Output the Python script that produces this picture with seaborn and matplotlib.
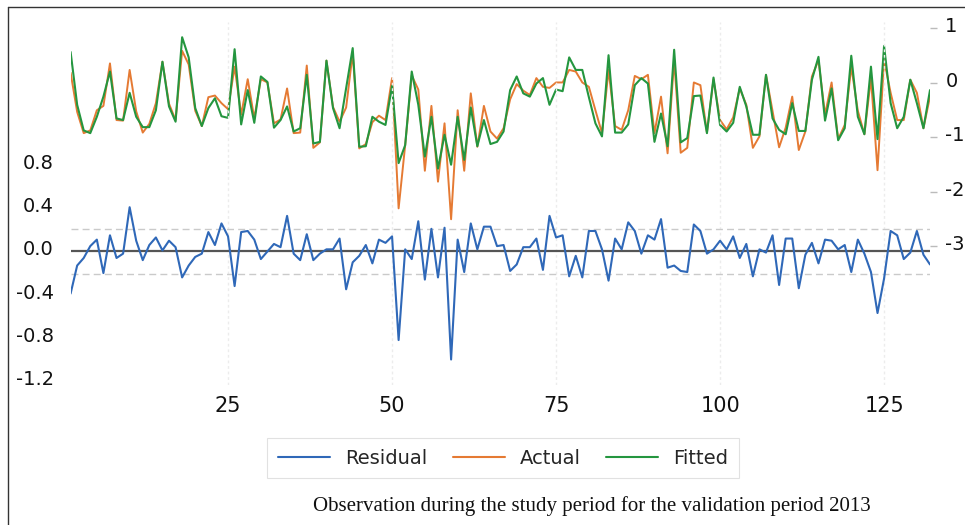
import numpy as np
import pandas as pd
import matplotlib
matplotlib.use("Agg")
import matplotlib.pyplot as plt
from matplotlib.lines import Line2D
import matplotlib.transforms as mtransforms
import seaborn as sns

# ---------------- data ----------------
obs = list(range(1, 133))

residual = [-0.39, -0.13, -0.06, 0.05, 0.11, -0.20, 0.15, -0.06, -0.02, 0.41,
            0.10, -0.08, 0.06, 0.13, 0.01, 0.10, 0.04, -0.24, -0.13, -0.05,
            -0.02, 0.18, 0.06, 0.26, 0.14, -0.32, 0.18, 0.19, 0.11, -0.07,
            0.00, 0.07, 0.04, 0.33, -0.02, -0.08, 0.16, -0.08, -0.02, 0.02,
            0.02, 0.12, -0.35, -0.10, -0.04, 0.06, -0.11, 0.11, 0.08, 0.14,
            -0.82, 0.02, -0.07, 0.28, -0.26, 0.21, -0.24, 0.22, -1.00, 0.11,
            -0.19, 0.26, 0.02, 0.23, 0.23, 0.05, 0.06, -0.18, -0.12, 0.04,
            0.04, 0.12, -0.17, 0.33, 0.13, 0.15, -0.23, -0.04, -0.24, 0.19,
            0.19, 0.02, -0.27, 0.12, 0.02, 0.27, 0.19, -0.02, 0.15, 0.11,
            0.30, -0.15, -0.13, -0.18, -0.19, 0.25, 0.19, -0.02, 0.02, 0.10,
            0.02, 0.14, -0.06, 0.07, -0.23, 0.02, -0.01, 0.15, -0.31, 0.12,
            0.12, -0.34, -0.03, 0.08, -0.11, 0.11, 0.10, 0.02, 0.06, -0.19,
            0.11, -0.02, -0.19, -0.57, -0.25, 0.19, 0.15, -0.07, -0.01, 0.19,
            -0.03, -0.12]

actual = [0.19, -0.53, -0.92, -0.87, -0.50, -0.42, 0.36, -0.68, -0.69, 0.24,
          -0.52, -0.91, -0.75, -0.37, 0.39, -0.38, -0.68, 0.59, 0.34, -0.51,
          -0.79, -0.26, -0.23, -0.37, -0.48, 0.30, -0.58, 0.07, -0.65, 0.07,
          0.01, -0.74, -0.67, -0.10, -0.92, -0.91, 0.32, -1.19, -1.09, 0.41,
          -0.44, -0.71, -0.45, 0.55, -1.20, -1.12, -0.72, -0.60, -0.68, 0.09,
          -2.30, -1.14, 0.14, -0.12, -1.61, -0.42, -1.81, -0.74, -2.50, -0.50,
          -1.61, -0.19, -1.17, -0.42, -0.89, -1.02, -0.83, -0.30, -0.02, -0.14,
          -0.22, 0.09, -0.07, -0.09, 0.01, 0.01, 0.24, 0.21, 0.01, -0.07,
          -0.50, -0.92, 0.24, -0.79, -0.86, -0.50, 0.13, 0.07, 0.15, -0.92,
          -0.25, -1.29, 0.42, -1.28, -1.19, 0.01, -0.04, -0.91, 0.07, -0.68,
          -0.85, -0.63, -0.10, -0.40, -1.19, -0.98, 0.15, -0.52, -1.18, -0.82,
          -0.25, -1.23, -0.89, 0.12, 0.42, -0.58, 0.01, -1.03, -0.77, 0.30,
          -0.51, -0.94, 0.09, -1.60, 0.42, -0.18, -0.68, -0.68, 0.06, -0.18,
          -0.83, -0.25]

fitted = [0.57, -0.40, -0.87, -0.92, -0.62, -0.25, 0.21, -0.65, -0.68, -0.18,
          -0.62, -0.81, -0.81, -0.50, 0.39, -0.43, -0.71, 0.84, 0.47, -0.46,
          -0.79, -0.46, -0.28, -0.61, -0.64, 0.62, -0.76, -0.13, -0.73, 0.12,
          0.02, -0.82, -0.68, -0.43, -0.89, -0.83, 0.15, -1.11, -1.08, 0.41,
          -0.46, -0.83, -0.10, 0.64, -1.17, -1.16, -0.62, -0.71, -0.77, -0.05,
          -1.47, -1.14, 0.21, -0.40, -1.35, -0.62, -1.57, -0.95, -1.50, -0.62,
          -1.41, -0.45, -1.16, -0.68, -1.12, -1.08, -0.89, -0.13, 0.12, -0.19,
          -0.25, -0.01, 0.09, -0.40, -0.12, -0.15, 0.47, 0.24, 0.24, -0.26,
          -0.74, -0.98, 0.51, -0.91, -0.91, -0.76, -0.04, 0.09, -0.01, -1.08,
          -0.56, -1.16, 0.61, -1.09, -1.01, -0.24, -0.23, -0.92, 0.10, -0.77,
          -0.89, -0.73, -0.07, -0.43, -0.95, -0.95, 0.15, -0.65, -0.86, -0.94,
          -0.37, -0.88, -0.88, 0.06, 0.48, -0.69, -0.10, -1.05, -0.83, 0.50,
          -0.62, -0.94, 0.30, -1.03, 0.68, -0.37, -0.83, -0.62, 0.06, -0.37,
          -0.83, -0.13]

x_ticks = [25, 50, 75, 100, 125]
left_ticks = [0.8, 0.4, 0.0, -0.4, -0.8, -1.2]
right_ticks = [1, 0, -1, -2, -3]
band = 0.21
series_names = ["Residual", "Actual", "Fitted"]
caption = "Observation during the study period for the validation period 2013"

# ---------------- style ----------------
sns.set_style("white")
plt.rcParams["font.family"] = ["DejaVu Sans"]

C_RES = "#2F68B8"
C_ACT = "#E57A33"
C_FIT = "#24963F"

W, H = 965, 525
fig = plt.figure(figsize=(W / 100, H / 100), dpi=100)

left_px, right_px, top_px, bot_px = 70.6, 930.0, 22.0, 385.0
ax = fig.add_axes([left_px / W, 1 - bot_px / H,
                   (right_px - left_px) / W, (bot_px - top_px) / H])
ax2 = ax.twinx()

df = pd.DataFrame({"obs": obs, "Residual": residual,
                   "Actual": actual, "Fitted": fitted})

# reference lines on the residual axis
for xv in x_ticks:
    ax.axvline(xv, color="#ECECEC", ls=(0, (2, 2)), lw=1.0, zorder=0)
ax.axhline(0, color="#555555", lw=1.6, zorder=1)
ax.axhline(band, color="#CACACA", ls=(0, (5, 3)), lw=1.0, zorder=1)
ax.axhline(-band, color="#CACACA", ls=(0, (5, 3)), lw=1.0, zorder=1)

sns.lineplot(data=df, x="obs", y="Residual", ax=ax, color=C_RES, lw=1.5, zorder=3)
sns.lineplot(data=df, x="obs", y="Actual", ax=ax2, color=C_ACT, lw=1.4)
sns.lineplot(data=df, x="obs", y="Fitted", ax=ax2, color=C_FIT, lw=1.5)

# scales: zero of residual at y=251.5px (108 px/unit); right zero at 83px (54.5 px/unit)
ax.set_xlim(1, 132)
ax.set_ylim(-(bot_px - 251.5) / 108.0, (251.5 - top_px) / 108.0)
ax2.set_ylim((83.0 - bot_px) / 54.5, (83.0 - top_px) / 54.5)

ax.set_xticks(x_ticks)
ax.set_xticklabels([str(v) for v in x_ticks])
ax.set_yticks(left_ticks)
ax.set_yticklabels([f"{v:.1f}" for v in left_ticks])
ax2.set_yticks(right_ticks)
ax2.set_yticklabels([str(v) for v in right_ticks])

ax.set_xlabel("")
ax.set_ylabel("")
ax2.set_ylabel("")
for a in (ax, ax2):
    for s in a.spines.values():
        s.set_visible(False)
ax.tick_params(axis="x", length=0, labelsize=15, pad=8, colors="#111111")
ax.tick_params(axis="y", length=0, labelsize=14, pad=12, colors="#111111")
ax2.tick_params(axis="y", length=5, width=1, color="#BBBBBB", labelsize=14,
                pad=6, labelcolor="#111111")

# tick labels sit slightly above their values in the reference
shift = mtransforms.ScaledTranslation(0, 3.5 / 100, fig.dpi_scale_trans)
for lab in ax.get_yticklabels() + ax2.get_yticklabels():
    lab.set_transform(lab.get_transform() + shift)

ax.set_facecolor("none")
ax2.set_facecolor("none")
ax.set_zorder(ax2.get_zorder() + 1)

# legend
handles = [Line2D([], [], color=c, lw=1.5) for c in (C_RES, C_ACT, C_FIT)]
leg = fig.legend(handles, series_names, loc="center",
                 bbox_to_anchor=(503 / W, 1 - 458 / H), ncol=3, fontsize=14,
                 frameon=True, fancybox=False, edgecolor="#DADADA",
                 handlelength=2.7, columnspacing=1.3, handletextpad=0.75,
                 borderpad=0.55)
leg.get_frame().set_linewidth(0.8)

# caption
fig.text(592 / W, 1 - 506 / H, caption, ha="center", va="center",
         fontsize=15, family=["Liberation Serif", "DejaVu Serif"], color="#111111")

# outer frame (left and top)
fig.add_artist(Line2D([8 / W, 8 / W], [0, 1 - 7 / H], color="#333333", lw=1.0))
fig.add_artist(Line2D([8 / W, 1], [1 - 7 / H, 1 - 7 / H], color="#333333", lw=1.0))

fig.savefig("out.png", dpi=100)
